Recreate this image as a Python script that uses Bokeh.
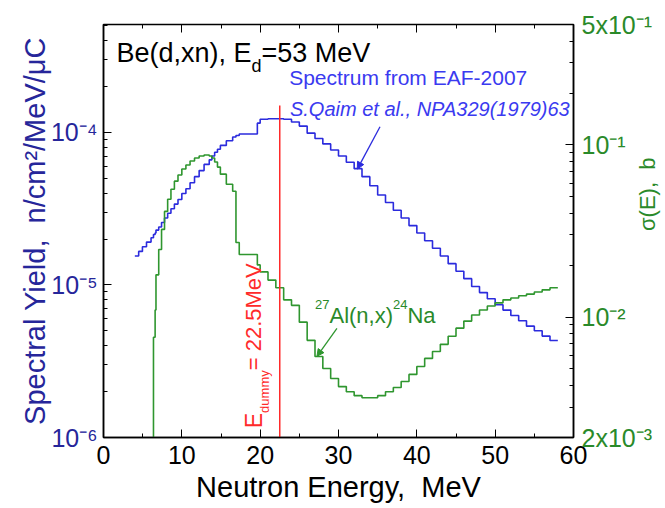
import math
from bokeh.plotting import figure
from bokeh.models import (Range1d, LogScale, LogAxis, LinearAxis, FixedTicker,
                          SingleIntervalTicker, Label, Arrow, NormalHead)
from bokeh.embed import file_html
from bokeh.resources import INLINE

# ---------------- data ----------------
# Be(d,xn) neutron spectrum (EAF-2007), n/cm^2/MeV/uC, group edges in MeV
blue_edges = [4.0, 4.49, 4.97, 5.49, 6.07, 6.38, 6.59, 6.70, 7.05, 7.41, 7.79, 8.19,
              8.61, 9.05, 9.51, 10.0, 10.52, 11.05, 11.62, 12.21, 12.84, 13.50, 13.84,
              14.19, 14.55, 14.92, 15.68, 16.49, 16.91, 17.33, 19.64, 20.0,
              21, 22, 23, 24, 25, 26, 27, 28, 29, 30, 31, 32, 33, 34, 35, 36, 37, 38,
              39, 40, 41, 42, 43, 44, 45, 46, 47, 48, 49, 50, 51, 52, 53, 54, 55, 56,
              57, 58]
blue_yield = [1.55e-5, 1.66e-5, 1.78e-5, 1.91e-5, 2.04e-5, 2.14e-5, 2.19e-5, 2.29e-5,
              2.40e-5, 2.57e-5, 2.75e-5, 2.95e-5, 3.16e-5, 3.39e-5, 3.63e-5, 3.98e-5,
              4.27e-5, 4.68e-5, 5.13e-5, 5.62e-5, 6.17e-5, 6.61e-5, 7.00e-5, 7.41e-5,
              7.76e-5, 8.22e-5, 8.81e-5, 9.33e-5, 9.55e-5, 9.77e-5, 1.15e-4,
              1.22e-4, 1.23e-4, 1.23e-4, 1.22e-4, 1.17e-4, 1.10e-4, 9.89e-5, 9.12e-5,
              8.41e-5, 7.67e-5, 7.00e-5, 6.38e-5, 5.79e-5, 5.13e-5, 4.47e-5, 3.89e-5,
              3.47e-5, 3.09e-5, 2.75e-5, 2.45e-5, 2.19e-5, 1.95e-5, 1.74e-5, 1.55e-5,
              1.38e-5, 1.23e-5, 1.10e-5, 9.77e-6, 8.91e-6, 8.13e-6, 7.41e-6, 6.84e-6,
              6.31e-6, 5.82e-6, 5.37e-6, 5.01e-6, 4.62e-6, 4.32e-6]

# 27Al(n,x)24Na cross section, barn
green_edges = [6.07, 6.38, 6.59, 6.70, 7.05, 7.41, 7.79, 8.19, 8.61, 9.05, 9.51, 10.0,
               10.52, 11.05, 11.62, 12.21, 12.84, 13.50, 13.84, 14.19, 14.55, 14.92,
               15.68, 16.49, 16.91, 17.33, 19.64, 20.0,
               21, 22, 23, 24, 25, 26, 27, 28, 29, 30, 31, 32, 33, 34, 35, 36, 37, 38,
               39, 40, 41, 42, 43, 44, 45, 46, 47, 48, 49, 50, 51, 52, 53, 54, 55, 56,
               57, 58]
green_sigma = [5e-4, 0.00764, 0.0110, 0.0176, 0.0247, 0.0323, 0.0411, 0.0483, 0.0553,
               0.0616, 0.0668, 0.0724, 0.0764, 0.0806, 0.0839, 0.0862, 0.0874, 0.0862,
               0.0839, 0.0796, 0.0743, 0.0676, 0.0591, 0.0538, 0.0271, 0.0231, 0.0201,
               0.0183, 0.0164, 0.0148, 0.0126, 0.0117, 0.00935, 0.00733, 0.00591,
               0.00503, 0.00440, 0.00395, 0.00369, 0.00350, 0.00340, 0.00340, 0.00350,
               0.00369, 0.00390, 0.00423, 0.00465, 0.00517, 0.00576, 0.00632, 0.00695,
               0.00774, 0.00863, 0.00948, 0.01028, 0.0110, 0.0116, 0.0121, 0.0126,
               0.0129, 0.0133, 0.0136, 0.0140, 0.0144, 0.0148]

dummy_energy = 22.5          # MeV
dummy_line_top = 1.5e-4      # top of the red marker line (left-axis units)

x_ticks_major = 10
left_tick_values = [1e-6, 1e-5, 1e-4]
left_tick_labels = ["10\u207b\u2076", "10\u207b\u2075", "10\u207b\u2074"]
right_tick_values = [0.002, 0.01, 0.1, 0.5]
right_tick_labels = ["2x10\u207b\u00b3", "10\u207b\u00b2", "10\u207b\u00b9", "5x10\u207b\u00b9"]

# ---------------- styling ----------------
FONT = "Liberation Sans"
BLUE = "#2b2bdd"
NAVY = "#26269a"
GREEN = "#2f962f"
GREEN_TXT = "#2a8a2a"
RED = "#ff2a2a"
TXT_BLUE = "#3a3af0"
DY = 6   # small upward nudge for horizontal labels

W = {' ': 278, '(': 333, ')': 333, ',': 278, '.': 278, '=': 584, 'B': 667, 'E': 667,
     'M': 833, 'V': 667, 'A': 667, 'N': 722, 'l': 222, 'a': 556, 'd': 556, 'e': 556,
     'n': 556, 'x': 500, 'u': 556, 'm': 833, 'y': 500}


def tw(s, size):
    return sum(W.get(c, 556) for c in s) * size / 1000.0


p = figure(frame_width=470, frame_height=413,
           x_range=Range1d(0, 60), y_range=Range1d(1e-6, 5.1e-4),
           y_axis_type="log", output_backend="svg", toolbar_location=None,
           min_border_left=103, min_border_right=20, min_border_top=24,
           min_border_bottom=20)
p.extra_y_ranges = {"sigma": Range1d(2e-3, 0.5)}
p.extra_y_scales = {"sigma": LogScale()}
p.grid.visible = False
p.outline_line_color = "black"
p.outline_line_width = 1.5
p.background_fill_color = "white"
p.border_fill_color = "white"

# bottom axis
xa = p.xaxis[0]
xa.ticker = SingleIntervalTicker(interval=x_ticks_major, num_minor_ticks=2)
xa.axis_label = "Neutron Energy,\u00a0 MeV"
xa.axis_label_text_font = FONT
xa.axis_label_text_font_size = "29px"
xa.axis_label_text_font_style = "normal"
xa.axis_label_text_color = "black"
xa.axis_label_standoff = 4
xa.major_label_text_font = FONT
xa.major_label_text_font_size = "25px"
xa.major_label_text_color = "black"
xa.major_label_standoff = 8
xa.major_tick_in = 8
xa.major_tick_out = 0
xa.minor_tick_in = 4
xa.minor_tick_out = 0
xa.axis_line_color = "black"
xa.axis_line_width = 1.5

# top axis (ticks only)
ta = LinearAxis(ticker=SingleIntervalTicker(interval=x_ticks_major, num_minor_ticks=2),
                major_label_text_font_size="1px", major_label_text_color=None,
                major_tick_in=8, major_tick_out=0,
                minor_tick_in=4, minor_tick_out=0, axis_line_color=None,
                major_label_standoff=0)
p.add_layout(ta, "above")

# left axis
left_minor = [m * 10.0 ** e for e in (-6, -5) for m in range(2, 10)] + [2e-4, 3e-4, 4e-4, 5e-4]
ya = p.yaxis[0]
ya.ticker = FixedTicker(ticks=left_tick_values, minor_ticks=left_minor)
ya.major_label_overrides = dict(zip(left_tick_values, left_tick_labels))
ya.axis_label = "Spectral Yield,\u00a0 n/cm\u00b2/MeV/\u03bcC"
ya.axis_label_text_font = FONT
ya.axis_label_text_font_size = "29px"
ya.axis_label_text_font_style = "normal"
ya.axis_label_text_color = NAVY
ya.axis_label_standoff = -3
ya.major_label_text_font = FONT
ya.major_label_text_font_size = "25px"
ya.major_label_text_color = NAVY
ya.major_label_standoff = 6
ya.major_tick_in = 8
ya.major_tick_out = 0
ya.minor_tick_in = 4
ya.minor_tick_out = 0
ya.axis_line_color = "black"
ya.axis_line_width = 1.5

# right axis
right_minor = [m * 1e-3 for m in range(3, 10)] + [m * 1e-2 for m in range(2, 10)] + [0.2, 0.3, 0.4]
ra = LogAxis(y_range_name="sigma",
             ticker=FixedTicker(ticks=right_tick_values, minor_ticks=right_minor),
             major_label_overrides=dict(zip(right_tick_values, right_tick_labels)),
             major_label_text_font=FONT, major_label_text_font_size="25px",
             major_label_text_color=GREEN_TXT, major_label_standoff=8,
             major_tick_in=8, major_tick_out=0, minor_tick_in=4, minor_tick_out=0,
             axis_line_color="black", axis_line_width=1.5,
             axis_label="\u03c3(E),\u00a0 b", axis_label_text_font=FONT,
             axis_label_text_font_size="22px", axis_label_text_font_style="normal",
             axis_label_text_color=GREEN_TXT, axis_label_standoff=-8)
if hasattr(ra, "axis_label_orientation"):
    ra.axis_label_orientation = math.pi / 2
p.add_layout(ra, "right")

# ---------------- curves ----------------
p.step(x=blue_edges, y=blue_yield + [blue_yield[-1]], mode="after",
       line_color=BLUE, line_width=1.6)
p.step(x=green_edges, y=green_sigma + [green_sigma[-1]], mode="after",
       line_color=GREEN, line_width=1.6, y_range_name="sigma")
p.segment(x0=[dummy_energy], y0=[1e-6], x1=[dummy_energy], y1=[dummy_line_top],
          line_color=RED, line_width=1.5)

# ---------------- annotations ----------------
# title  "Be(d,xn), E_d=53 MeV"
tx, ty, ts, tss = 1.66, 3.02e-4, 27, 18
p.add_layout(Label(x=tx, y=ty, y_offset=DY, text="Be(d,xn), E", text_font=FONT,
                   text_font_size=f"{ts}px", text_color="black", text_baseline="alphabetic"))
p.add_layout(Label(x=tx, y=ty, x_offset=tw("Be(d,xn), E", ts), y_offset=DY - 13, text="d",
                   text_font=FONT, text_font_size=f"{tss}px", text_color="black",
                   text_baseline="alphabetic"))
p.add_layout(Label(x=tx, y=ty, x_offset=tw("Be(d,xn), E", ts) + tw("d", tss), y_offset=DY,
                   text="=53 MeV", text_font=FONT, text_font_size=f"{ts}px",
                   text_color="black", text_baseline="alphabetic"))

p.add_layout(Label(x=23.7, y=2.10e-4, y_offset=DY, text="Spectrum from EAF-2007",
                   text_font=FONT, text_font_size="21px", text_color=TXT_BLUE,
                   text_baseline="alphabetic"))
p.add_layout(Label(x=23.8, y=1.31e-4, y_offset=DY, text="S.Qaim et al., NPA329(1979)63",
                   text_font=FONT, text_font_size="20px", text_font_style="italic",
                   text_color=TXT_BLUE, text_baseline="alphabetic"))

# arrows
p.add_layout(Arrow(end=NormalHead(size=7, fill_color=BLUE, line_color=BLUE),
                   x_start=35.3, y_start=1.09e-4, x_end=32.4, y_end=5.75e-5,
                   line_color=BLUE, line_width=1.3))
p.add_layout(Arrow(end=NormalHead(size=7, fill_color=GREEN, line_color=GREEN),
                   x_start=29.8, y_start=0.0086, x_end=27.25, y_end=0.00592,
                   line_color=GREEN, line_width=1.3, y_range_name="sigma"))

# "27Al(n,x)24Na"
ax_, ay_, big, small = 27.0, 5.8e-6, 22, 13
pieces = [("27", small, 11), ("Al(n,x)", big, 0), ("24", small, 11), ("Na", big, 0)]
off = 0.0
for txt, sz, rise in pieces:
    p.add_layout(Label(x=ax_, y=ay_, x_offset=off, y_offset=rise + DY, text=txt,
                       text_font=FONT, text_font_size=f"{sz}px", text_color=GREEN_TXT,
                       text_baseline="alphabetic"))
    off += tw(txt, sz)

# "E_dummy = 22.5MeV" rotated
ex, ey = 19.8, 1.15e-6
rot = math.pi / 2
p.add_layout(Label(x=ex, y=ey, x_offset=-5, text="E", angle=rot, text_font=FONT,
                   text_font_size="23px", text_color=RED, text_baseline="alphabetic"))
p.add_layout(Label(x=ex, y=ey, x_offset=6, y_offset=tw("E", 23), text="dummy", angle=rot,
                   text_font=FONT, text_font_size="13px", text_color=RED,
                   text_baseline="alphabetic"))
p.add_layout(Label(x=ex, y=ey, x_offset=-5, y_offset=tw("E", 23) + tw("dummy", 13),
                   text=" = 22.5MeV", angle=rot, text_font=FONT, text_font_size="22px",
                   text_color=RED, text_baseline="alphabetic"))

open("out.html", "w").write(file_html(p, INLINE))
